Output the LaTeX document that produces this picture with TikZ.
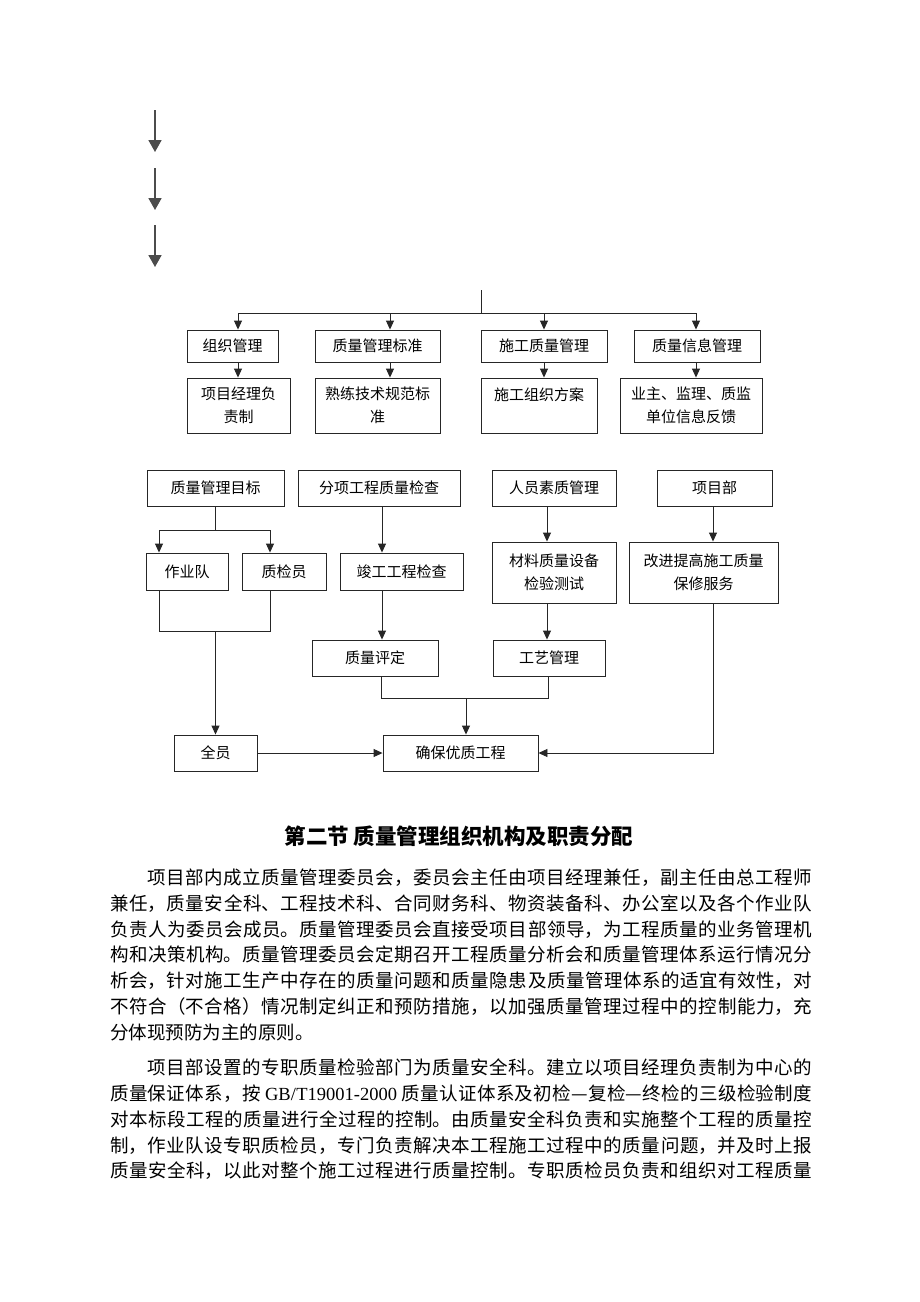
\documentclass[tikz,border=0pt]{standalone}
\usepackage{fontspec}
\setmainfont{Liberation Serif}
\newfontfamily\cjk{Noto Sans CJK SC}
\usetikzlibrary{arrows.meta}
\XeTeXlinebreaklocale "zh"
\XeTeXlinebreakskip=0pt plus 2pt
\tikzset{
  box/.style={draw=black!85,line width=0.9pt,inner sep=0pt,align=center,font=\cjk\fontsize{15}{23}\selectfont},
  link/.style={draw=black!85,line width=0.9pt},
  tip/.style={link,-{Triangle[length=9pt,width=8pt]}},
  bigtip/.style={draw=black!70,line width=1.8pt,-{Triangle[length=12pt,width=13pt]}},
  para/.style={anchor=north west,inner sep=0pt,text width=702pt,align=justify,font=\cjk\fontsize{18.5}{25.7}\selectfont}
}

\begin{document}
\begin{tikzpicture}[x=1pt,y=-1pt]
  \useasboundingbox (0,0) rectangle (920,1302);
  \fill[white] (0,0) rectangle (920,1302);

  % three loose arrows
  \foreach \i/\y in {1/110,2/168,3/225}{
    \coordinate (s\i) at (155,\y);
    \coordinate (e\i) at (155,\y+42);
    \draw[bigtip] (s\i) -- (e\i);
  }

  % upper tree
  \node[box,minimum width=91pt,minimum height=32pt] (zzgl) at (232.5,346) {组织管理};
  \node[box,minimum width=125pt,minimum height=32pt] (glbz) at (377.5,346) {质量管理标准};
  \node[box,minimum width=126pt,minimum height=32pt] (sgzl) at (544,346) {施工质量管理};
  \node[box,minimum width=126pt,minimum height=32pt] (xxgl) at (697,346) {质量信息管理};
  \node[box,minimum width=103pt,minimum height=55pt] (jlfz) at (238.5,405.5) {项目经理负\\责制};
  \node[box,minimum width=125pt,minimum height=55pt] (jsgf) at (377.5,405.5) {熟练技术规范标\\准};
  \node[box,minimum width=116pt,minimum height=55pt] (zzfa) at (539,405.5) {施工组织方案\\\mbox{}};
  \node[box,minimum width=142pt,minimum height=55pt] (xxfk) at (691,405.5) {业主、监理、质监\\单位信息反馈};

  \coordinate (top) at (481,290);
  \coordinate (hub) at (481,313);
  \coordinate (k1) at (238,313);
  \coordinate (k2) at (390,313);
  \coordinate (k3) at (544,313);
  \coordinate (k4) at (696,313);
  \draw[link] (top) -- (hub);
  \draw[link] (k1) -- (k4);
  \foreach \k/\a/\b in {k1/zzgl/jlfz,k2/glbz/jsgf,k3/sgzl/zzfa,k4/xxgl/xxfk}{
    \draw[tip] (\k) -- (\k |- \a.north);
    \draw[tip] (\k |- \a.south) -- (\k |- \b.north);
  }

  % lower chart
  \node[box,minimum width=137pt,minimum height=36pt] (glmb) at (215.5,488) {质量管理目标};
  \node[box,minimum width=162pt,minimum height=36pt] (fxjc) at (379,488) {分项工程质量检查};
  \node[box,minimum width=124pt,minimum height=36pt] (rysz) at (554,488) {人员素质管理};
  \node[box,minimum width=115pt,minimum height=36pt] (xmb) at (714.5,488) {项目部};
  \node[box,minimum width=82pt,minimum height=37pt] (zyd) at (187,571.5) {作业队};
  \node[box,minimum width=84pt,minimum height=37pt] (zjy) at (284,571.5) {质检员};
  \node[box,minimum width=123pt,minimum height=37pt] (jgjc) at (401.5,571.5) {竣工工程检查};
  \node[box,minimum width=124pt,minimum height=61pt] (clsb) at (554,572.5) {材料质量设备\\检验测试};
  \node[box,minimum width=149pt,minimum height=61pt] (gjfw) at (703.5,572.5) {改进提高施工质量\\保修服务};
  \node[box,minimum width=126pt,minimum height=36pt] (zlpd) at (375,658) {质量评定};
  \node[box,minimum width=112pt,minimum height=36pt] (gygl) at (549,658) {工艺管理};
  \node[box,minimum width=83pt,minimum height=36pt] (qy) at (215.5,753) {全员};
  \node[box,minimum width=155pt,minimum height=36pt] (qbgc) at (460.5,753) {确保优质工程};

  \coordinate (m1l) at (159,530);
  \coordinate (m1r) at (270,530);
  \coordinate (c2) at (382,0);
  \coordinate (c3) at (547,0);
  \coordinate (c4) at (713,0);
  \coordinate (j1l) at (159,631);
  \coordinate (j1r) at (270,631);
  \coordinate (j2l) at (381,698);
  \coordinate (j2r) at (548,698);
  \coordinate (j2m) at (466,698);

  \draw[link] (glmb.south) -- (glmb.south |- m1l);
  \draw[link] (m1l) -- (m1r);
  \draw[tip] (m1l) -- (m1l |- zyd.north);
  \draw[tip] (m1r) -- (m1r |- zjy.north);
  \draw[tip] (fxjc.south -| c2) -- (jgjc.north -| c2);
  \draw[tip] (rysz.south -| c3) -- (clsb.north -| c3);
  \draw[tip] (xmb.south -| c4) -- (gjfw.north -| c4);

  \draw[link] (zyd.south -| j1l) -- (j1l) -- (j1r) -- (zjy.south -| j1r);
  \draw[tip] (qy.north |- j1l) -- (qy.north);
  \draw[tip] (jgjc.south -| c2) -- (zlpd.north -| c2);
  \draw[tip] (clsb.south -| c3) -- (gygl.north -| c3);
  \draw[link] (zlpd.south -| j2l) -- (j2l) -- (j2r) -- (gygl.south -| j2r);
  \draw[tip] (j2m) -- (j2m |- qbgc.north);
  \draw[tip] (qy) -- (qbgc);
  \draw[tip] (gjfw.south -| c4) |- (qbgc.east);

  % section text
  \node[font=\cjk\bfseries\fontsize{21.5}{25}\selectfont] (title) at (459,836) {第二节 质量管理组织机构及职责分配};
  \node[para] (p1) at (110,869) {\parindent=0pt\hspace*{2em}项目部内成立质量管理委员会，委员会主任由项目经理兼任，副主任由总工程师\linebreak%
兼任，质量安全科、工程技术科、合同财务科、物资装备科、办公室以及各个作业队\linebreak%
负责人为委员会成员。质量管理委员会直接受项目部领导，为工程质量的业务管理机\linebreak%
构和决策机构。质量管理委员会定期召开工程质量分析会和质量管理体系运行情况分\linebreak%
析会，针对施工生产中存在的质量问题和质量隐患及质量管理体系的适宜有效性，对\linebreak%
不符合（不合格）情况制定纠正和预防措施，以加强质量管理过程中的控制能力，充\linebreak%
分体现预防为主的原则。};
  \node[para] (p2) at (110,1059) {\parindent=0pt\hspace*{2em}项目部设置的专职质量检验部门为质量安全科。建立以项目经理负责制为中心的\linebreak%
质量保证体系，按 {\rmfamily GB/T19001-2000} 质量认证体系及初检—复检—终检的三级检验制度\linebreak%
对本标段工程的质量进行全过程的控制。由质量安全科负责和实施整个工程的质量控\linebreak%
制，作业队设专职质检员，专门负责解决本工程施工过程中的质量问题，并及时上报\linebreak%
质量安全科，以此对整个施工过程进行质量控制。专职质检员负责和组织对工程质量\parfillskip=0pt\par};
\end{tikzpicture}
\end{document}
